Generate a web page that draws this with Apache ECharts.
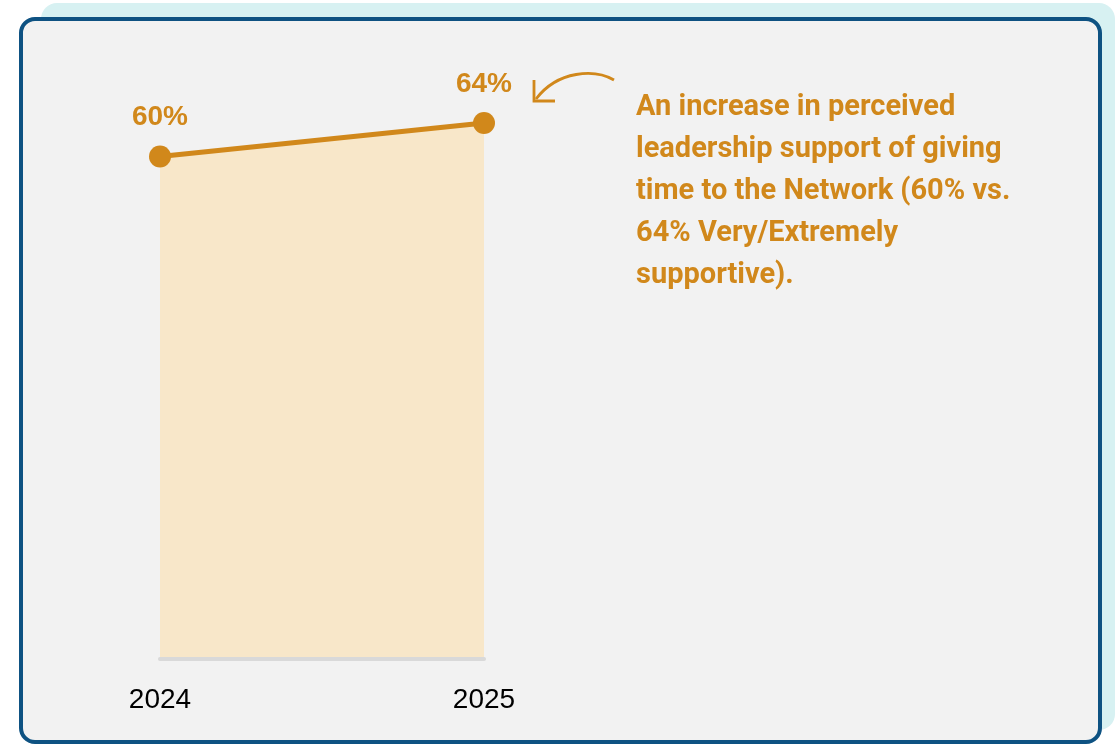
<!DOCTYPE html>
<html>
<head>
<meta charset="utf-8">
<script src="https://cdn.jsdelivr.net/npm/echarts@6/dist/echarts.min.js"></script>
<style>
  html, body { margin: 0; padding: 0; background: #ffffff; }
  #chart { width: 1116px; height: 744px; }
</style>
</head>
<body>
<div id="chart"></div>
<script>
// Survey years and share answering Very/Extremely supportive (%)
const years = ['2024', '2025'];
const supportShare = [60, 64];
const noteText = 'An increase in perceived\nleadership support of giving\ntime to the Network (60% vs.\n64% Very/Extremely\nsupportive).';

const gold = '#D1881B';

const chart = echarts.init(document.getElementById('chart'), null, { renderer: 'canvas' });

// 0 sits on the baseline at y=659 and 70 at the grid top
const yMax = 70;
const gridTop = 72.75;
const gridBottomPx = 659;

chart.setOption({
  animation: false,
  backgroundColor: '#ffffff',
  graphic: [
    { type: 'rect', z: -20, shape: { x: 41, y: 3, width: 1074, height: 727, r: 16 },
      style: { fill: '#D7F1F2' } },
    { type: 'rect', z: -10, shape: { x: 21, y: 19, width: 1079, height: 723, r: 14 },
      style: { fill: '#F2F2F2', stroke: '#0E5282', lineWidth: 4 } },
    { type: 'bezierCurve', z: 50,
      shape: { x1: 614, y1: 80, cpx1: 595, cpy1: 69, cpx2: 558, cpy2: 70, x2: 536, y2: 99 },
      style: { fill: null, stroke: gold, lineWidth: 2.8 } },
    { type: 'polyline', z: 50,
      shape: { points: [[534, 80], [534, 101], [555, 101]] },
      style: { fill: null, stroke: gold, lineWidth: 2.8 } },
    { type: 'text', z: 50, left: 636, top: 87,
      style: { text: noteText, fill: gold, font: 'bold 29px Roboto, "DejaVu Sans Condensed", sans-serif',
        lineHeight: 42 } }
  ],
  grid: { left: 160, right: 632, top: gridTop, bottom: 744 - gridBottomPx },
  xAxis: {
    type: 'category',
    data: years,
    boundaryGap: false,
    z: 5,
    axisLine: { show: true, lineStyle: { color: '#D9D9D9', width: 4 } },
    axisTick: { show: false },
    axisLabel: { color: '#000000', fontSize: 28, fontFamily: '"Liberation Sans", Arial, sans-serif', margin: 27 },
    splitLine: { show: false }
  },
  yAxis: {
    type: 'value', min: 0, max: yMax, show: false, splitLine: { show: false }
  },
  series: [{
    type: 'line',
    data: supportShare,
    symbol: 'circle',
    symbolSize: 22,
    lineStyle: { color: gold, width: 5 },
    itemStyle: { color: gold },
    areaStyle: { color: '#F8E7C9', opacity: 1 },
    label: {
      show: true, position: 'top', distance: 14,
      formatter: p => p.value + '%',
      color: gold, fontSize: 28, fontWeight: 'bold', fontFamily: '"Liberation Sans", Arial, sans-serif'
    }
  }]
});
</script>
</body>
</html>
